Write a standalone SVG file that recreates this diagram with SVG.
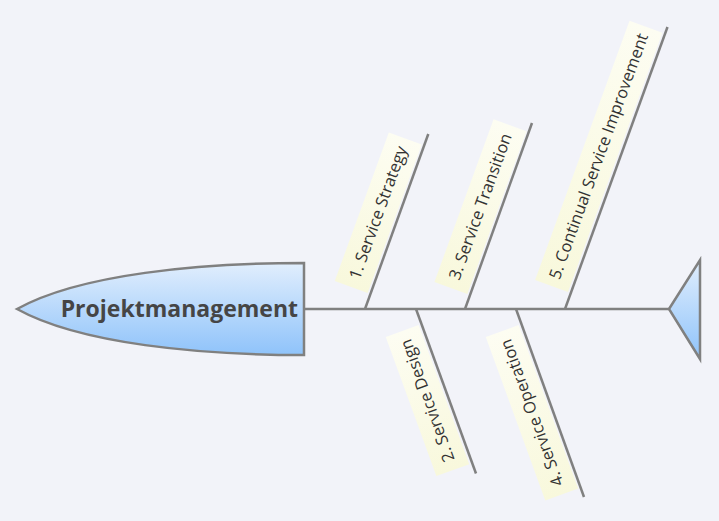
<svg xmlns="http://www.w3.org/2000/svg" width="719" height="521" viewBox="0 0 719 521">
<defs>
<linearGradient id="headGrad" x1="0" y1="0" x2="0" y2="1">
<stop offset="0" stop-color="#e1eefd"/>
<stop offset="1" stop-color="#8fc3fa"/>
</linearGradient>
<linearGradient id="labelGrad" x1="0" y1="0" x2="1" y2="0">
<stop offset="0" stop-color="#f8f8dc"/>
<stop offset="1" stop-color="#fdfdf2"/>
</linearGradient>
<style>
.bone{stroke:#808080;stroke-width:2.5;fill:none;stroke-linecap:butt}
.box{fill:url(#labelGrad);stroke:none}
.lbl{font-family:"Open Sans","DejaVu Sans",sans-serif;font-size:16.5px;fill:#333333;text-anchor:middle}
.shape{stroke:#808080;stroke-width:2.5;fill:url(#headGrad)}
.title{font-family:"Open Sans","Liberation Sans",sans-serif;font-size:23px;font-weight:bold;fill:#454545}
</style>
</defs>
<rect x="0" y="0" width="719" height="521" fill="#f2f3f9"/>
<g id="connectors">
<line class="bone" x1="304" y1="309" x2="670" y2="309"/>
<line class="bone" x1="365" y1="309" x2="428.3" y2="134"/>
<line class="bone" x1="465" y1="309" x2="532" y2="123"/>
<line class="bone" x1="565" y1="309" x2="667.5" y2="27"/>
<line class="bone" x1="416" y1="309" x2="476" y2="473.5"/>
<line class="bone" x1="516" y1="309" x2="584" y2="497"/>
</g>
<g id="head">
<path class="shape" d="M17,309 C80,274 200,263 304,263 L304,355 C200,355 80,344 17,309 Z"/>
<text class="title" x="298" y="316.5" text-anchor="end">Projektmanagement</text>
</g>
<g id="tail">
<path class="shape" d="M669,309 L700,260 L700,359 Z"/>
</g>
<g id="n1" transform="translate(365,309) rotate(-70)">
<rect class="box" x="16" y="-38" width="158" height="35"/>
<text class="lbl" x="95" y="-15">1. Service Strategy</text>
</g>
<g id="n3" transform="translate(465,309) rotate(-70)">
<rect class="box" x="15" y="-38" width="173" height="35"/>
<text class="lbl" x="101.5" y="-15">3. Service Transition</text>
</g>
<g id="n5" transform="translate(565,309) rotate(-70)">
<rect class="box" x="17" y="-38" width="276" height="35"/>
<text class="lbl" x="155" y="-15">5. Continual Service Improvement</text>
</g>
<g id="n2" transform="translate(416,309) rotate(-110)">
<rect class="box" x="-164" y="-38" width="148" height="35"/>
<text class="lbl" x="-90" y="-15">2. Service Design</text>
</g>
<g id="n4" transform="translate(516,309) rotate(-110)">
<rect class="box" x="-190" y="-38" width="174" height="35"/>
<text class="lbl" x="-103" y="-15">4. Service Operation</text>
</g>
</svg>
